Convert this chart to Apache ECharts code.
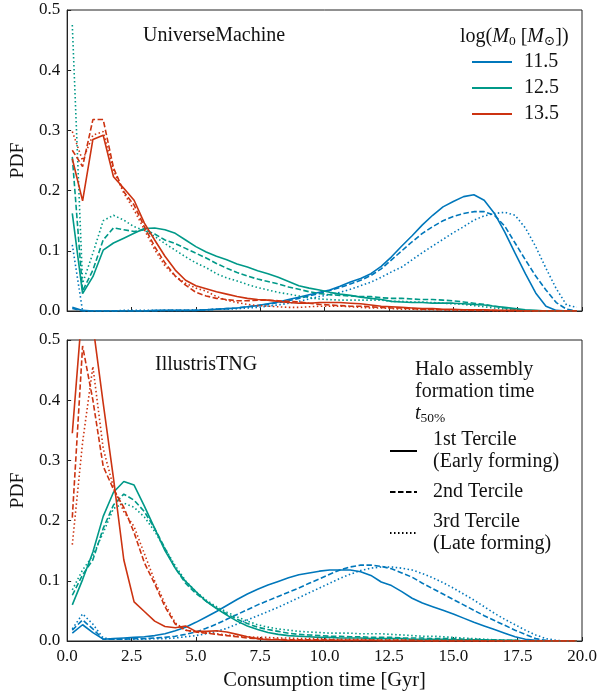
<!DOCTYPE html>
<html><head><meta charset="utf-8">
<script src="https://cdn.jsdelivr.net/npm/echarts@6/dist/echarts.min.js"></script>
<style>html,body{margin:0;padding:0;background:#fff}#c{width:601px;height:693px}</style>
</head><body><div id="c"></div>
<script>
// Bin centres of consumption time [Gyr]
const X = [0.2,0.6,1.0,1.4,1.8,2.2,2.6,3.0,3.4,3.8,4.2,4.6,5.0,5.4,5.8,6.2,6.6,7.0,7.4,7.8,
  8.2,8.6,9.0,9.4,9.8,10.2,10.6,11.0,11.4,11.8,12.2,12.6,13.0,13.4,13.8,14.2,14.6,15.0,15.4,15.8,
  16.2,16.6,17.0,17.4,17.8,18.2,18.6,19.0,19.4,19.8];

const MASSES = ['11.5','12.5','13.5'];
const TERCILES = ['1st Tercile\n(Early forming)','2nd Tercile','3rd Tercile\n(Late forming)'];
const X_TICKS = [0,2.5,5,7.5,10,12.5,15,17.5,20];
const Y_TICKS = [0,0.1,0.2,0.3,0.4,0.5];

// UniverseMachine PDFs
const UM_115_early = [0.006,0.001,0,0,0,0,0,0,0.001,0.001, 0.001,0.001,0.001,0.002,0.003,0.004,0.005,0.007,0.009,0.012, 0.015,0.019,0.023,0.027,0.031,0.035,0.041,0.048,0.054,0.062, 0.074,0.090,0.108,0.125,0.143,0.159,0.173,0.182,0.190,0.193, 0.184,0.162,0.131,0.096,0.062,0.030,0.008,0.001,0,0];
const UM_115_mid = [0.004,0,0,0,0,0,0,0,0,0.001, 0.001,0.001,0.001,0.002,0.003,0.004,0.005,0.007,0.009,0.011, 0.014,0.017,0.021,0.025,0.029,0.034,0.039,0.045,0.051,0.059, 0.070,0.085,0.100,0.115,0.129,0.140,0.150,0.157,0.162,0.165, 0.165,0.159,0.141,0.113,0.085,0.058,0.035,0.014,0.003,0];
const UM_115_late = [0.110,0,0,0,0,0.001,0.001,0.001,0.001,0.001, 0.001,0.001,0.002,0.002,0.003,0.003,0.004,0.005,0.006,0.008, 0.010,0.013,0.016,0.020,0.024,0.027,0.031,0.036,0.042,0.048, 0.056,0.065,0.073,0.085,0.097,0.108,0.119,0.130,0.140,0.151, 0.158,0.162,0.164,0.159,0.138,0.107,0.071,0.037,0.010,0.006];
const UM_125_early = [0.162,0.029,0.057,0.101,0.113,0.121,0.129,0.137,0.138,0.135, 0.129,0.118,0.107,0.098,0.091,0.085,0.078,0.073,0.067,0.062, 0.056,0.049,0.042,0.038,0.035,0.031,0.028,0.026,0.023,0.021, 0.019,0.016,0.015,0.014,0.014,0.013,0.013,0.013,0.012,0.011, 0.010,0.008,0.006,0.004,0.002,0.001,0,0,0,0];
const UM_125_mid = [0.256,0.033,0.068,0.118,0.138,0.135,0.132,0.135,0.128,0.118, 0.112,0.104,0.096,0.088,0.079,0.071,0.064,0.058,0.053,0.049, 0.045,0.040,0.036,0.032,0.029,0.027,0.026,0.025,0.024,0.024, 0.022,0.021,0.021,0.020,0.019,0.019,0.018,0.017,0.015,0.013, 0.011,0.008,0.005,0.003,0.001,0,0,0,0,0];
const UM_125_late = [0.475,0.046,0.096,0.150,0.159,0.151,0.140,0.134,0.124,0.112, 0.101,0.090,0.080,0.072,0.062,0.055,0.050,0.044,0.039,0.035, 0.031,0.028,0.025,0.022,0.020,0.019,0.018,0.018,0.018,0.018, 0.018,0.016,0.016,0.015,0.015,0.014,0.013,0.012,0.011,0.009, 0.007,0.005,0.003,0.001,0,0,0,0,0,0];
const UM_135_early = [0.253,0.183,0.285,0.292,0.223,0.204,0.184,0.146,0.118,0.091, 0.068,0.051,0.042,0.037,0.032,0.028,0.024,0.021,0.019,0.018, 0.016,0.014,0.013,0.013,0.014,0.014,0.014,0.013,0.012,0.010, 0.008,0.007,0.006,0.005,0.004,0.004,0.003,0.003,0.002,0.002, 0.002,0.001,0.001,0.001,0,0,0,0,0,0];
const UM_135_mid = [0.267,0.240,0.318,0.318,0.238,0.198,0.176,0.140,0.107,0.080, 0.058,0.043,0.031,0.025,0.021,0.019,0.017,0.017,0.018,0.018, 0.017,0.016,0.015,0.013,0.011,0.010,0.009,0.008,0.008,0.007, 0.006,0.005,0.005,0.004,0.003,0.003,0.002,0.002,0.002,0.001, 0.001,0.001,0,0,0,0,0,0,0,0];
const UM_135_late = [0.298,0.250,0.292,0.298,0.233,0.196,0.168,0.135,0.102,0.075, 0.058,0.046,0.038,0.033,0.024,0.018,0.014,0.011,0.009,0.008, 0.007,0.006,0.006,0.007,0.008,0.008,0.008,0.007,0.006,0.005, 0.005,0.004,0.003,0.003,0.002,0.002,0.002,0.001,0.001,0.001, 0.001,0,0,0,0,0,0,0,0,0];

// IllustrisTNG PDFs
const TNG_115_early = [0.013,0.027,0.014,0.003,0.004,0.005,0.006,0.007,0.009,0.012, 0.017,0.023,0.031,0.040,0.049,0.059,0.069,0.078,0.086,0.093, 0.099,0.105,0.110,0.113,0.116,0.118,0.118,0.118,0.115,0.109, 0.098,0.092,0.082,0.071,0.063,0.057,0.051,0.045,0.038,0.031, 0.025,0.019,0.013,0.007,0.003,0.001,0,0,0,0];
const TNG_115_mid = [0.018,0.035,0.020,0.003,0.003,0.003,0.004,0.004,0.005,0.006, 0.008,0.011,0.015,0.021,0.028,0.036,0.044,0.052,0.060,0.067, 0.074,0.081,0.088,0.096,0.103,0.111,0.118,0.123,0.126,0.126, 0.124,0.120,0.113,0.106,0.096,0.087,0.078,0.069,0.060,0.051, 0.042,0.034,0.026,0.018,0.011,0.004,0.001,0,0,0];
const TNG_115_late = [0.020,0.045,0.028,0.005,0.003,0.003,0.003,0.003,0.004,0.004, 0.005,0.007,0.009,0.012,0.016,0.021,0.028,0.035,0.042,0.049, 0.056,0.064,0.072,0.080,0.088,0.096,0.104,0.111,0.117,0.121, 0.123,0.123,0.121,0.118,0.112,0.105,0.097,0.088,0.078,0.068, 0.057,0.046,0.036,0.027,0.018,0.010,0.004,0.001,0,0];
const TNG_125_early = [0.060,0.102,0.148,0.207,0.247,0.265,0.259,0.224,0.187,0.150, 0.121,0.099,0.082,0.066,0.054,0.043,0.033,0.025,0.019,0.014, 0.011,0.009,0.008,0.007,0.006,0.006,0.005,0.005,0.005,0.004, 0.004,0.004,0.004,0.003,0.003,0.003,0.003,0.002,0.002,0.002, 0.002,0.001,0.001,0.001,0,0,0,0,0,0];
const TNG_125_mid = [0.076,0.110,0.135,0.187,0.226,0.244,0.234,0.215,0.187,0.154, 0.121,0.096,0.079,0.066,0.055,0.045,0.036,0.029,0.023,0.019, 0.016,0.013,0.011,0.010,0.009,0.008,0.008,0.007,0.007,0.006, 0.006,0.006,0.005,0.005,0.005,0.004,0.004,0.004,0.003,0.003, 0.002,0.002,0.001,0.001,0,0,0,0,0,0];
const TNG_125_late = [0.085,0.118,0.142,0.180,0.220,0.229,0.222,0.206,0.182,0.154, 0.125,0.100,0.082,0.068,0.057,0.048,0.040,0.033,0.027,0.023, 0.020,0.018,0.016,0.015,0.014,0.013,0.013,0.013,0.012,0.012, 0.012,0.011,0.010,0.009,0.008,0.008,0.007,0.006,0.005,0.004, 0.003,0.002,0.001,0,0,0,0,0,0,0];
const TNG_135_early = [0.345,0.560,0.525,0.395,0.270,0.135,0.065,0.049,0.033,0.024, 0.022,0.025,0.016,0.016,0.017,0.015,0.011,0.007,0.004,0.002, 0.002,0.001,0.001,0.001,0.001,0.001,0.001,0.001,0.001,0.001, 0,0,0,0,0,0,0,0,0,0, 0,0,0,0,0,0,0,0,0,0];
const TNG_135_mid = [0.205,0.490,0.400,0.290,0.252,0.222,0.180,0.130,0.095,0.057, 0.028,0.018,0.015,0.013,0.011,0.009,0.007,0.005,0.004,0.003, 0.003,0.002,0.002,0.002,0.002,0.002,0.001,0.001,0.001,0.001, 0.001,0.001,0.001,0.001,0,0,0,0,0,0, 0,0,0,0,0,0,0,0,0,0];
const TNG_135_late = [0.160,0.330,0.456,0.320,0.255,0.215,0.190,0.145,0.100,0.062, 0.030,0.018,0.015,0.014,0.012,0.010,0.008,0.007,0.006,0.006, 0.005,0.005,0.004,0.004,0.004,0.003,0.003,0.003,0.003,0.002, 0.002,0.002,0.002,0.002,0.001,0.001,0.001,0.001,0.001,0.001, 0,0,0,0,0,0,0,0,0,0];

const FONT = '"Liberation Serif", "DejaVu Serif", serif';
const TXT = '#111';
const AXC = '#222';
const COLORS = {'11.5':'#0077BB','12.5':'#009988','13.5':'#CC3311'};
const DASH = {solid:'solid', dashed:[5.5,2.5], dotted:[1.5,2.5]};

const PANELS = [
  {'11.5':[UM_115_early,UM_115_mid,UM_115_late],'12.5':[UM_125_early,UM_125_mid,UM_125_late],'13.5':[UM_135_early,UM_135_mid,UM_135_late]},
  {'11.5':[TNG_115_early,TNG_115_mid,TNG_115_late],'12.5':[TNG_125_early,TNG_125_mid,TNG_125_late],'13.5':[TNG_135_early,TNG_135_mid,TNG_135_late]}
];
const STYLES = ['solid','dashed','dotted'];

const series = [];
PANELS.forEach((panel, g) => {
  MASSES.forEach(m => {
    panel[m].forEach((ys, k) => {
      series.push({
        type:'line', name:m, xAxisIndex:g, yAxisIndex:g,
        data: X.map((x,i)=>[x, ys[i]]),
        showSymbol:false, symbol:'none', clip:true,
        lineStyle:{color:COLORS[m], width:1.6, type:DASH[STYLES[k]]},
        itemStyle:{color:COLORS[m]},
        emphasis:{disabled:true}, silent:true
      });
    });
  });
});
TERCILES.forEach((t,k) => {
  series.push({type:'line', name:t, xAxisIndex:1, yAxisIndex:1, data:[], symbol:'none',
    lineStyle:{color:'#000', width:1.6, type:DASH[STYLES[k]]}, itemStyle:{color:'#000'}});
});

const grids = [
  {left:64, right:19, top:10, height:301, show:true, borderColor:AXC, borderWidth:1},
  {left:64, right:19, top:340, height:301, show:true, borderColor:AXC, borderWidth:1}
];
const xAxes = [0,1].map(i => ({
  type:'value', gridIndex:i, min:X_TICKS[0], max:X_TICKS[X_TICKS.length-1], interval:X_TICKS[1]-X_TICKS[0],
  axisLine:{show:true, onZero:false, lineStyle:{color:AXC, width:1}},
  axisTick:{show:true, inside:true, length:4, lineStyle:{color:AXC}},
  axisLabel:{show:i===1, showMinLabel:true, showMaxLabel:true, fontFamily:FONT, fontSize:17, color:TXT, margin:7,
    formatter:v=>v.toFixed(1)},
  splitLine:{show:false},
  name: i===1 ? 'Consumption time [Gyr]' : '', nameLocation:'middle', nameGap:29,
  nameTextStyle:{fontFamily:FONT, fontSize:20.5, color:TXT}
}));
const yAxes = [0,1].map(i => ({
  type:'value', gridIndex:i, min:Y_TICKS[0], max:Y_TICKS[Y_TICKS.length-1], interval:Y_TICKS[1]-Y_TICKS[0],
  axisLine:{show:true, onZero:false, lineStyle:{color:AXC, width:1}},
  axisTick:{show:true, inside:true, length:4, lineStyle:{color:AXC}},
  axisLabel:{fontFamily:FONT, fontSize:17, color:TXT, margin:7, formatter:v=>v.toFixed(1)},
  splitLine:{show:false},
  name:'PDF', nameLocation:'middle', nameGap:33,
  nameTextStyle:{fontFamily:FONT, fontSize:19.5, color:TXT}
}));

const rich = {
  i:{fontFamily:FONT, fontSize:20, fontStyle:'italic', color:TXT, lineHeight:22},
  s:{fontFamily:FONT, fontSize:13.5, color:TXT, lineHeight:10, verticalAlign:'bottom'}
};
const titleStyle = {fontFamily:FONT, fontSize:20, fontWeight:'normal', color:TXT, lineHeight:22, rich:rich};
const noSymbol = {color:'rgba(0,0,0,0)', borderWidth:0, opacity:0};

const option = {
  animation:false,
  backgroundColor:'#fff',
  grid:grids, xAxis:xAxes, yAxis:yAxes, series:series,
  title:[
    {text:'UniverseMachine', left:143, top:25, padding:0, textStyle:titleStyle},
    {text:'IllustrisTNG', left:155, top:354, padding:0, textStyle:titleStyle},
    {text:'log({i|M}{s|0} [{i|M}{s|⊙}])', left:460, top:26, padding:0, textStyle:titleStyle},
    {text:'Halo assembly\nformation time\n{i|t}{s|50%}', left:415, top:359, padding:0, textStyle:titleStyle}
  ],
  legend:[
    {data:MASSES, orient:'vertical', left:471, top:51, padding:0, itemWidth:40, itemHeight:14, itemGap:4,
      selectedMode:false, itemStyle:noSymbol,
      textStyle:{fontFamily:FONT, fontSize:20, color:TXT, lineHeight:22, padding:[0,0,0,7]}},
    {data:TERCILES, orient:'vertical', left:389, top:429, padding:0, itemWidth:27, itemHeight:14, itemGap:8,
      selectedMode:false, itemStyle:noSymbol,
      textStyle:{fontFamily:FONT, fontSize:20, color:TXT, lineHeight:22, padding:[0,0,0,11]}}
  ]
};
const chart = echarts.init(document.getElementById('c'), null, {renderer:'canvas'});
chart.setOption(option);
</script>
</body></html>
